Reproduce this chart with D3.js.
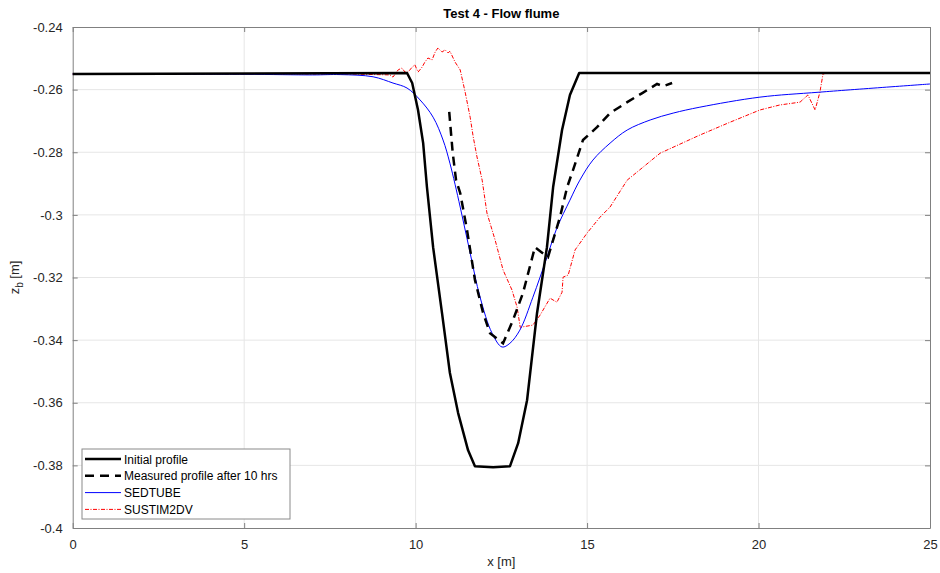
<!DOCTYPE html>
<html><head><meta charset="utf-8">
<script src="https://cdn.jsdelivr.net/npm/d3@7"></script>
<style>body{margin:0;background:#fff}svg{display:block;font-family:"Liberation Sans",Arial,sans-serif}</style>
</head><body><svg id="c" width="940" height="573"></svg>
<script>
const xTicks = [0,5,10,15,20,25];
const yTicks = [-0.4,-0.38,-0.36,-0.34,-0.32,-0.3,-0.28,-0.26,-0.24];
const seriesNames = ["Initial profile","Measured profile after 10 hrs","SEDTUBE","SUSTIM2DV"];

const initialX = [0,9.75,9.90,10.07,10.22,10.33,10.51,10.77,11.00,11.24,11.53,11.73,12.26,12.75,12.99,13.25,13.54,13.83,14.01,14.27,14.50,14.77,25];
const initialZ = [-0.255,-0.2547,-0.2579,-0.2665,-0.2771,-0.2911,-0.3103,-0.3314,-0.3505,-0.3633,-0.3752,-0.3803,-0.3806,-0.3803,-0.3729,-0.3592,-0.3314,-0.3103,-0.2911,-0.2729,-0.2617,-0.2547,-0.2547];

const measuredX = [10.98,11.08,11.18,11.30,11.50,11.73,11.97,12.17,12.55,12.84,13.13,13.48,13.86,14.21,14.42,14.59,14.88,15.29,15.67,16.17,16.61,17.04,17.22,17.48];
const measuredZ = [-0.2671,-0.2800,-0.2890,-0.2930,-0.3049,-0.3208,-0.3314,-0.3378,-0.3410,-0.3336,-0.3250,-0.3103,-0.3135,-0.3007,-0.2911,-0.2857,-0.2761,-0.2720,-0.2675,-0.2640,-0.2611,-0.2582,-0.2589,-0.2579];

const sedtubeX = [0,5,7,7.8,8.76,9.34,9.75,10.13,10.51,10.80,11.00,11.30,11.59,11.88,12.23,12.52,12.75,13.04,13.42,13.83,14.12,14.50,14.79,15.17,15.67,16.17,16.84,17.51,18.29,20.04,21.79,25];
const sedtubeZ = [-0.2550,-0.2551,-0.2553,-0.2552,-0.2559,-0.2579,-0.2595,-0.2633,-0.2688,-0.2761,-0.2835,-0.2975,-0.3122,-0.3263,-0.3378,-0.3422,-0.3410,-0.3368,-0.3263,-0.3135,-0.3042,-0.2953,-0.2889,-0.2825,-0.2771,-0.2729,-0.2697,-0.2675,-0.2656,-0.2624,-0.2608,-0.2582];

const sustimX = [0,8.0,9.25,9.34,9.49,9.60,9.69,9.78,9.90,9.98,10.07,10.19,10.27,10.36,10.48,10.57,10.65,10.77,10.86,10.95,11.00,11.15,11.30,11.45,11.59,11.68,11.79,11.94,12.08,12.32,12.55,12.81,12.96,13.05,13.42,13.63,13.92,14.12,14.27,14.30,14.45,14.65,15.00,15.38,15.67,16.17,17.13,18.29,19.17,20.04,20.62,21.21,21.44,21.65,21.79,21.88,22.0,25];
const sustimZ = [-0.2550,-0.2550,-0.2553,-0.2560,-0.2537,-0.2531,-0.2544,-0.2544,-0.2528,-0.2521,-0.2544,-0.2528,-0.2512,-0.2499,-0.2505,-0.2480,-0.2467,-0.2480,-0.2473,-0.2483,-0.2477,-0.2512,-0.2537,-0.2611,-0.2688,-0.2751,-0.2815,-0.2889,-0.2994,-0.3081,-0.3176,-0.3240,-0.3295,-0.3359,-0.3352,-0.3320,-0.3266,-0.3279,-0.3247,-0.3199,-0.3192,-0.3112,-0.3058,-0.3007,-0.2975,-0.2889,-0.2803,-0.2745,-0.2704,-0.2665,-0.2649,-0.2640,-0.2617,-0.2665,-0.2608,-0.2550,-0.2547,-0.2547];

const svg = d3.select("#c");
const L=72.7, R=930, T=27, B=528;
const x = d3.scaleLinear().domain([0,25]).range([L,R]);
const y = d3.scaleLinear().domain([-0.4,-0.24]).range([B,T]);
const axisCol="#808080", txtCol="#262626", gridCol="#e6e6e6";

svg.append("g").selectAll("line").data(xTicks.slice(1,-1)).join("line")
  .attr("x1",d=>x(d)).attr("x2",d=>x(d)).attr("y1",T).attr("y2",B).attr("stroke",gridCol);
svg.append("g").selectAll("line").data(yTicks.slice(1,-1)).join("line")
  .attr("y1",d=>y(d)).attr("y2",d=>y(d)).attr("x1",L).attr("x2",R).attr("stroke",gridCol);

const fmt = v => String(+v.toFixed(2));
const gx = svg.append("g").attr("transform",`translate(0,${B})`)
  .call(d3.axisBottom(x).tickValues(xTicks).tickSizeInner(-5).tickSizeOuter(0).tickPadding(12).tickFormat(d3.format("d")));
const gxt = svg.append("g").attr("transform",`translate(0,${T})`)
  .call(d3.axisTop(x).tickValues(xTicks).tickSizeInner(-5).tickSizeOuter(0).tickFormat(""));
const gy = svg.append("g").attr("transform",`translate(${L},0)`)
  .call(d3.axisLeft(y).tickValues(yTicks).tickSizeInner(-5).tickSizeOuter(0).tickPadding(10).tickFormat(fmt));
const gyr = svg.append("g").attr("transform",`translate(${R},0)`)
  .call(d3.axisRight(y).tickValues(yTicks).tickSizeInner(-5).tickSizeOuter(0).tickFormat(""));
[gx,gxt,gy,gyr].forEach(g=>{
  g.selectAll("path.domain").attr("stroke",axisCol);
  g.selectAll(".tick line").attr("stroke",axisCol);
  g.selectAll("text").attr("fill",txtCol).attr("font-size",13).attr("font-family","Liberation Sans, Arial, sans-serif");
});

const line = d3.line().x(d=>x(d[0])).y(d=>y(d[1]));
const smooth = d3.line().x(d=>x(d[0])).y(d=>y(d[1])).curve(d3.curveCatmullRom.alpha(0.5));
const zip = (a,b)=>a.map((v,i)=>[v,b[i]]);
const plot = svg.append("g");
plot.append("path").attr("d",line(zip(sustimX,sustimZ))).attr("fill","none").attr("stroke","#ff0000").attr("stroke-width",1).attr("stroke-dasharray","4,1.5,1,1.5");
plot.append("path").attr("d",smooth(zip(sedtubeX,sedtubeZ))).attr("fill","none").attr("stroke","#0000ff").attr("stroke-width",1);
plot.append("path").attr("d",line(zip(initialX,initialZ))).attr("fill","none").attr("stroke","#000").attr("stroke-width",2.5).attr("stroke-linejoin","round");
plot.append("path").attr("d",line(zip(measuredX,measuredZ))).attr("fill","none").attr("stroke","#000").attr("stroke-width",2.5).attr("stroke-dasharray","9,6");

svg.append("text").attr("x",(L+R)/2).attr("y",18).attr("text-anchor","middle").attr("font-weight","bold").attr("font-size",13).attr("fill","#000").text("Test 4 - Flow flume");
svg.append("text").attr("x",(L+R)/2).attr("y",566).attr("text-anchor","middle").attr("font-size",13).attr("fill",txtCol).text("x [m]");
const yl = svg.append("text").attr("transform",`translate(19,${(T+B)/2}) rotate(-90)`).attr("text-anchor","middle").attr("font-size",13).attr("fill",txtCol);
yl.append("tspan").text("z");
yl.append("tspan").attr("font-size",10).attr("dy",4).text("b");
yl.append("tspan").attr("dy",-4).text(" [m]");

const lg = svg.append("g");
lg.append("rect").attr("x",82).attr("y",449).attr("width",208).attr("height",70).attr("fill","#fff").attr("stroke","#8a8a8a").attr("stroke-width",1);
const styles = [
  {c:"#000",w:2.5,d:null},{c:"#000",w:2.5,d:"9,6"},{c:"#0000ff",w:1,d:null},{c:"#ff0000",w:1,d:"4,1.5,1,1.5"}];
seriesNames.forEach((n,i)=>{
  const yy = 459 + i*16.8;
  lg.append("line").attr("x1",85).attr("x2",121).attr("y1",yy).attr("y2",yy).attr("stroke",styles[i].c).attr("stroke-width",styles[i].w).attr("stroke-dasharray",styles[i].d);
  lg.append("text").attr("x",124).attr("y",yy+4.5).attr("font-size",12).attr("fill","#000").text(n);
});
</script></body></html>
